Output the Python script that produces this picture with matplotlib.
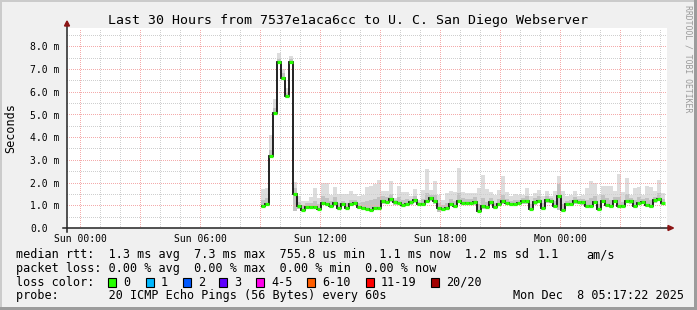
import numpy as np
import matplotlib
matplotlib.use("Agg")
import matplotlib.pyplot as plt
from matplotlib.patches import Rectangle, Polygon
from matplotlib.lines import Line2D
from matplotlib.transforms import blended_transform_factory, ScaledTranslation

W, H, DPI = 697, 310, 100
MONO = "DejaVu Sans Mono"

title = "Last 30 Hours from 7537e1aca6cc to U. C. San Diego Webserver"
y_label = "Seconds"
watermark = "RRDTOOL / TOBI OETIKER"

# x axis: hours relative to Sun 00:00
x_range = (-0.65, 29.35)
x_label_hours = [0, 6, 12, 18, 24]
x_labels = ["Sun 00:00", "Sun 06:00", "Sun 12:00", "Sun 18:00", "Mon 00:00"]
y_range = (0, 8.8)
y_tick_values = [0, 1, 2, 3, 4, 5, 6, 7, 8]
y_tick_labels = ["0.0", "1.0 m", "2.0 m", "3.0 m", "4.0 m", "5.0 m", "6.0 m", "7.0 m", "8.0 m"]

first_sample_hour = 9.05   # Sun 09:03
sample_hours = 0.2         # 12 minute steps

# median RTT (ms) per step
median_ms = [0.95, 1.07, 3.19, 5.08, 7.31, 6.58, 5.79, 7.31, 1.51, 0.95,
             0.80, 0.93, 0.93, 0.93, 0.85, 1.12, 1.05, 0.98, 1.08, 0.88,
             1.04, 0.90, 1.05, 1.12, 0.92, 0.88, 0.85, 0.81, 0.88, 0.88,
             1.17, 1.14, 1.29, 1.13, 1.10, 1.01, 1.07, 1.14, 1.24, 1.05,
             1.04, 1.21, 1.30, 1.17, 0.88, 0.83, 0.88, 1.05, 0.99, 1.21,
             1.10, 1.10, 1.10, 1.14, 0.76, 0.95, 0.91, 1.13, 0.91, 1.05,
             1.17, 1.10, 1.07, 1.07, 1.10, 1.17, 1.17, 0.85, 1.13, 1.21,
             0.89, 1.24, 1.21, 0.95, 1.41, 0.80, 1.07, 1.07, 1.17, 1.16,
             1.13, 0.98, 0.95, 1.14, 0.85, 1.21, 1.02, 0.98, 1.21, 0.95,
             0.95, 1.21, 1.17, 0.99, 1.10, 1.14, 1.02, 0.98, 1.24, 1.29,
             1.10]

# smoke: max ping per step
smoke_max_ms = [1.72, 1.76, 4.10, 5.67, 7.72, 6.99, 6.15, 7.57, 2.02, 1.39,
                1.21, 1.20, 1.35, 1.75, 1.30, 2.00, 2.00, 1.46, 1.79, 1.49,
                1.49, 1.49, 1.61, 1.49, 1.40, 1.46, 1.80, 1.83, 1.95, 2.12,
                1.65, 1.65, 2.05, 1.32, 1.86, 1.57, 1.57, 1.39, 1.71, 1.25,
                1.68, 2.60, 1.68, 2.08, 1.46, 1.25, 1.54, 1.61, 1.60, 2.64,
                1.57, 1.54, 1.54, 1.54, 1.76, 2.34, 1.71, 1.57, 1.46, 1.68,
                2.27, 1.57, 1.39, 1.50, 1.46, 1.46, 1.76, 1.42, 1.54, 1.68,
                1.39, 1.61, 1.39, 1.61, 2.27, 1.65, 1.39, 1.46, 1.65, 1.39,
                1.46, 1.76, 2.05, 1.98, 1.46, 1.83, 1.83, 1.83, 1.61, 2.38,
                1.57, 2.20, 1.46, 1.76, 1.79, 1.46, 1.83, 1.80, 1.61, 2.12,
                1.54]

# smoke: upper quartile ping per step (darker band)
smoke_q3_ms = [1.25, 1.30, 3.45, 5.30, 7.45, 6.80, 5.95, 7.45, 1.75, 1.15,
               1.00, 1.08, 1.10, 1.20, 1.05, 1.40, 1.30, 1.18, 1.35, 1.12,
               1.20, 1.10, 1.25, 1.25, 1.12, 1.15, 1.20, 1.22, 1.28, 1.35,
               1.40, 1.35, 1.50, 1.25, 1.35, 1.22, 1.28, 1.25, 1.42, 1.15,
               1.28, 1.55, 1.45, 1.45, 1.10, 1.00, 1.12, 1.28, 1.20, 1.55,
               1.30, 1.28, 1.28, 1.35, 1.05, 1.30, 1.15, 1.30, 1.10, 1.28,
               1.45, 1.28, 1.20, 1.25, 1.25, 1.30, 1.40, 1.05, 1.30, 1.40,
               1.10, 1.40, 1.32, 1.20, 1.95, 1.05, 1.20, 1.25, 1.35, 1.28,
               1.28, 1.25, 1.30, 1.40, 1.05, 1.45, 1.30, 1.25, 1.35, 1.35,
               1.15, 1.50, 1.30, 1.25, 1.35, 1.28, 1.30, 1.25, 1.38, 1.55,
               1.28]

# smoke: min ping per step
smoke_min_ms = [0.90, 1.00, 3.10, 5.00, 7.20, 6.50, 5.70, 7.20, 0.73, 0.85,
                0.75, 0.85, 0.85, 0.85, 0.78, 1.00, 0.95, 0.90, 0.98, 0.80,
                0.95, 0.82, 0.95, 1.00, 0.84, 0.80, 0.78, 0.75, 0.80, 0.80,
                1.05, 1.05, 1.15, 1.00, 1.00, 0.92, 0.97, 1.03, 1.10, 0.95,
                0.95, 1.08, 1.18, 1.05, 0.72, 0.76, 0.80, 0.95, 0.90, 1.10,
                1.00, 1.00, 1.00, 1.03, 0.70, 0.85, 0.82, 1.02, 0.83, 0.95,
                1.05, 1.00, 0.97, 0.97, 1.00, 1.05, 1.07, 0.78, 1.02, 1.10,
                0.80, 1.12, 1.10, 0.86, 0.78, 0.72, 0.98, 0.98, 1.06, 1.05,
                1.03, 0.90, 0.86, 1.04, 0.76, 1.10, 0.93, 0.90, 1.10, 0.86,
                0.86, 1.10, 1.07, 0.90, 1.00, 1.04, 0.93, 0.90, 1.12, 1.17,
                1.00]

stats_row1 = "median rtt:  1.3 ms avg  7.3 ms max  755.8 us min  1.1 ms now  1.2 ms sd"
stats_row1_sd = "1.1"
stats_row1_unit = "am/s"
stats_row2 = "packet loss: 0.00 % avg  0.00 % max  0.00 % min  0.00 % now"
loss_title = "loss color:"
loss_labels = ["0", "1", "2", "3", "4-5", "6-10", "11-19", "20/20"]
loss_colors = ["#26ff00", "#00b8ff", "#0059ff", "#5e00ff", "#ff00ea", "#ff5e00", "#ff0000", "#a10000"]
probe_text = "probe:       20 ICMP Echo Pings (56 Bytes) every 60s"
date_text = "Mon Dec  8 05:17:22 2025"

# ---------------------------------------------------------------
fig = plt.figure(figsize=(W / DPI, H / DPI), dpi=DPI, facecolor="#f0f0f0")


def fx(px):
    return px / W


def fy(py):
    return 1 - py / H


# frame shading
for (x0, y0, w, h, c) in [(0, 0, W, 2, "#cbcbcb"), (0, 0, 2, H, "#cbcbcb"),
                          (0, H - 3, W, 3, "#9c9c9c"), (W - 3, 0, 3, H, "#9c9c9c")]:
    fig.add_artist(Rectangle((fx(x0), fy(y0 + h)), w / W, h / H, transform=fig.transFigure,
                             facecolor=c, edgecolor="none", zorder=0))

L, T, R, B = 67, 28, 667, 228
ax = fig.add_axes([fx(L), fy(B), (R - L) / W, (B - T) / H])
ax.set_facecolor("white")
ax.set_xlim(*x_range)
ax.set_ylim(*y_range)
for s in ax.spines.values():
    s.set_visible(False)

n = len(median_ms)
edges = first_sample_hour + sample_hours * np.arange(n + 1)
med = np.array(median_ms)

ax.stairs(smoke_max_ms, edges, baseline=smoke_min_ms, fill=True, color="#dddddd", zorder=1)
ax.stairs(smoke_q3_ms, edges, baseline=smoke_min_ms, fill=True, color="#c2c2c2", zorder=1.1)

# grid
major_x = np.arange(0, 30, 3)
minor_x = np.arange(-0, 30, 1)
ax.set_xticks(major_x)
ax.set_xticks(minor_x, minor=True)
ax.set_yticks(y_tick_values)
ax.set_yticks(np.arange(0.5, 8.8, 0.5), minor=True)
ax.tick_params(which="both", length=0, labelbottom=False, labelleft=False)
ax.grid(which="minor", color="#cfcfcf", linestyle=(0, (1, 2)), linewidth=0.72,
        antialiased=False, zorder=2)
ax.grid(which="major", color="#f4abab", linestyle=(0, (1, 2)), linewidth=0.72,
        antialiased=False, zorder=2.1)
ax.set_axisbelow(False)

ax.stairs(med, edges, baseline=None, color="#111111", linewidth=1.3, zorder=3)
ax.hlines(med, edges[:-1], edges[1:], color=loss_colors[0], linewidth=2.3, zorder=4)

# axes lines + arrows
axis_color = "#222222"
fig.add_artist(Line2D([fx(63), fx(669)], [fy(B), fy(B)], transform=fig.transFigure,
                      color=axis_color, linewidth=1.1, zorder=5))
fig.add_artist(Line2D([fx(L), fx(L)], [fy(B + 4), fy(24)], transform=fig.transFigure,
                      color=axis_color, linewidth=1.1, zorder=5))
arrow_c = "#8b1414"
fig.add_artist(Polygon([(fx(64.5), fy(26)), (fx(69.5), fy(26)), (fx(67), fy(21))],
                       closed=True, transform=fig.transFigure, color=arrow_c, zorder=6))
fig.add_artist(Polygon([(fx(668), fy(225.5)), (fx(668), fy(230.5)), (fx(673.5), fy(228))],
                       closed=True, transform=fig.transFigure, color=arrow_c, zorder=6))

# tick labels
ytrans = blended_transform_factory(fig.transFigure, ax.transData) + \
    ScaledTranslation(0, -4.2 / DPI, fig.dpi_scale_trans)
for v, lab in zip(y_tick_values, y_tick_labels):
    fig.text(fx(30), v, lab, transform=ytrans, ha="left", va="baseline",
             family=MONO, fontsize=7.05, color="black")
xtrans = blended_transform_factory(ax.transData, fig.transFigure)
for hx, lab in zip(x_label_hours, x_labels):
    fig.text(hx + 0.04, fy(241.5), lab, transform=xtrans, ha="center", va="baseline",
             family=MONO, fontsize=7.05, color="black")

# title, axis label, watermark
fig.text(fx(347.5), fy(24), title, ha="center", va="baseline", family=MONO, fontsize=9.55)
fig.text(fx(10.5), fy(128), y_label, ha="center", va="center", rotation=90,
         family=MONO, fontsize=8.5)
fig.text(fx(688), fy(59), watermark, ha="center", va="center", rotation=270,
         family=MONO, fontsize=5.9, color="#9a9a9a")

# legend rows
fs = 8.5
fig.text(fx(16), fy(258.3), stats_row1, ha="left", va="baseline", family=MONO, fontsize=fs)
fig.text(fx(537.3), fy(258.3), stats_row1_sd, ha="left", va="baseline", family=MONO, fontsize=fs)
fig.text(fx(586), fy(258.3), stats_row1_unit, ha="left", va="baseline", family=MONO, fontsize=fs)
fig.text(fx(16), fy(271.8), stats_row2, ha="left", va="baseline", family=MONO, fontsize=fs)
fig.text(fx(16), fy(285.6), loss_title, ha="left", va="baseline", family=MONO, fontsize=fs)
box_x = [108.3, 145.7, 182.7, 219, 256, 307.3, 365.7, 430.7]
for bx, lab, c in zip(box_x, loss_labels, loss_colors):
    fig.add_artist(Rectangle((fx(bx), fy(286.5)), 8 / W, 8.5 / H, transform=fig.transFigure,
                             facecolor=c, edgecolor="black", linewidth=0.8, zorder=5))
    fig.text(fx(bx + 15), fy(285.6), lab, ha="left", va="baseline", family=MONO, fontsize=fs)
fig.text(fx(16), fy(299.2), probe_text, ha="left", va="baseline", family=MONO, fontsize=fs)
fig.text(fx(513.3), fy(299.2), date_text, ha="left", va="baseline", family=MONO, fontsize=fs)

fig.savefig("out.png", dpi=DPI, facecolor=fig.get_facecolor())
